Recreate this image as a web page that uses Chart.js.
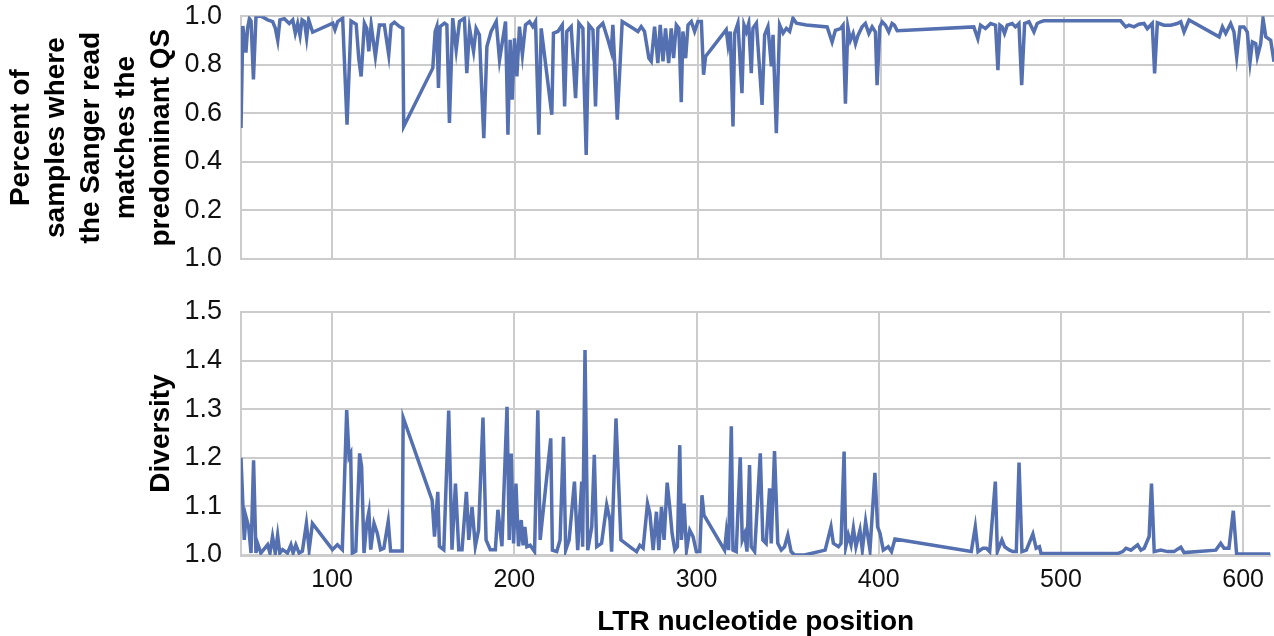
<!DOCTYPE html>
<html>
<head>
<meta charset="utf-8">
<script src="https://cdn.jsdelivr.net/npm/chart.js@4.4.1/dist/chart.umd.min.js"></script>
<style>
  html, body { margin:0; padding:0; background:#fff; }
  #wrap { position:relative; width:1274px; height:636px; overflow:hidden; }
  canvas { position:absolute; left:0; }
  #topChart { top:0; }
  #divChart { top:290px; }
</style>
</head>
<body>
<div id="wrap">
  <canvas id="topChart" width="1274" height="280"></canvas>
  <canvas id="divChart" width="1274" height="346"></canvas>
</div>
<script>
// LTR positions
const xTicks = [100, 200, 300, 400, 500, 600];

const topTickVals = [0, 0.2, 0.4, 0.6, 0.8, 1.0];
const topTickLabels = ["1.0", "0.2", "0.4", "0.6", "0.8", "1.0"];
const divTickVals = [1.0, 1.1, 1.2, 1.3, 1.4, 1.5];

const matchPos = [50,51,52.7,53.6,54.6,55.5,56.8,58.2,61,64.6,67.3,68.8,70.1,71.3,73.7,76.4,78.3,79.7,81,82.3,83.4,84.7,85.9,87,89.2,
  100.2,101.4,102.9,105.6,108,110.2,113,114.4,115.7,117.5,118.8,119.9,121.2,122.4,123.5,125.7,128.4,130.8,132.1,133.9,136.7,138.5,139,
  154.9,156.2,157.1,158,158.9,161.3,162.6,164,165.8,167.7,169.5,172.2,173.5,175,177.2,178.6,180.4,182.8,184.5,186.8,189.6,191.4,194.7,
  196,197.2,198.3,199.6,200.9,202.3,203.9,205.6,207.8,209.6,211.1,212.9,214.2,220,220.9,223.3,225.7,227,228.2,230.6,233,234.8,237,
  237.5,238.8,240.3,242.5,243.9,245.2,247.9,250.7,252.5,253.4,255.8,258.5,264.4,267.1,268.9,270.7,273.1,274.4,276.2,278,279.3,280.8,
  282.2,283.9,285.3,286.6,288.1,289.5,290.8,291.7,293.2,294.5,296.3,298.1,299.9,301.8,303,304.1,315.4,316.4,317.6,319.1,320,321.8,324,
  325.1,326.4,327.7,329.1,330,331.9,335,336.4,338.2,340.1,341,342.8,344.6,346.5,348.3,350.1,351.9,353.8,359.2,370.6,373.3,375.1,377.9,
  379.3,380.6,381.9,383.3,384.8,386.1,387.5,389.7,391.5,393.4,395.2,397,397.9,399.4,400.7,402.5,404.3,406.1,407.4,408.9,450.8,453,
  454.5,457.2,460,462.7,464,465.1,466.3,467.6,469.1,471.8,473.6,475.5,477,478.6,481,483.7,485.5,487.3,489.1,531.1,533.9,535.7,538.4,
  541.1,543.9,545.7,548.4,549.7,551.2,554.8,558.5,562.1,564,565.8,568.5,585,586.8,588.6,591.3,593.1,594.6,596.4,598.6,600.4,601.9,
  603.2,605,605.9,607.7,609,610.5,613.2,615];
const matchVals = [0.54,0.96,0.85,0.95,0.99,0.98,0.74,1.0,1.0,0.985,0.978,0.95,0.90,0.985,0.99,0.97,0.985,0.93,0.97,0.92,0.985,0.978,0.91,0.985,0.934,
  0.971,0.944,0.978,0.992,0.553,0.98,0.967,0.827,0.752,0.971,0.95,0.855,0.964,0.896,0.834,0.964,0.964,0.841,0.964,0.975,0.957,0.95,0.546,
  0.786,0.937,0.957,0.704,0.957,0.971,0.964,0.56,0.992,0.861,0.978,0.992,0.765,0.95,0.855,0.95,0.923,0.498,0.875,0.937,0.978,0.82,0.978,
  0.512,0.903,0.656,0.909,0.752,0.957,0.841,0.964,0.978,0.957,0.978,0.512,0.95,0.594,0.93,0.937,0.964,0.628,0.937,0.957,0.662,0.971,0.95,
  0.772,0.429,0.964,0.944,0.628,0.95,0.971,0.903,0.855,0.964,0.574,0.978,0.95,0.937,0.957,0.937,0.827,0.814,0.957,0.807,0.964,0.814,
  0.95,0.807,0.95,0.827,0.964,0.95,0.646,0.937,0.827,0.964,0.978,0.937,0.978,0.978,0.759,0.834,0.944,0.882,0.937,0.546,0.93,0.971,0.683,
  0.964,0.937,0.971,0.765,0.95,0.971,0.635,0.923,0.957,0.793,0.923,0.518,0.964,0.93,0.95,0.937,0.992,0.971,0.964,0.956,0.894,0.942,0.949,
  0.963,0.64,0.956,0.901,0.929,0.887,0.922,0.956,0.97,0.929,0.956,0.935,0.716,0.956,0.977,0.963,0.935,0.97,0.963,0.94,0.956,0.908,
  0.963,0.949,0.97,0.963,0.778,0.963,0.956,0.929,0.963,0.97,0.956,0.97,0.716,0.97,0.977,0.935,0.97,0.977,0.981,0.981,0.956,0.963,0.956,
  0.967,0.97,0.949,0.97,0.764,0.973,0.963,0.963,0.97,0.977,0.935,0.984,0.915,0.956,0.929,0.97,0.935,0.833,0.956,0.956,0.935,0.812,
  0.894,0.887,0.833,0.887,0.99,0.915,0.901,0.812];

const divPos = [50,51.8,52.7,54.2,55.5,56.9,58.2,59.1,60.9,64.6,65.9,67.3,68.8,70.1,71.3,72.8,75.5,77.4,78.6,80.1,81.9,83.7,85.9,87.4,89.2,
  100.2,102.9,105.6,108,109.3,110.2,111.1,113,115.1,116.2,117.5,119,120.2,121.2,123,124.8,126.6,128.4,130.8,132.1,138.5,139,
  154.9,156.2,158,158.9,161.3,164,165.8,167.7,169.5,171.3,173.7,175,176.8,178.6,180.4,182.8,184.5,186.8,189.6,191,193.2,
  196,197.2,198.3,199.6,200.9,202.3,203.8,204.8,205.8,206.9,208.7,211.1,212.9,214.2,220,220.9,223.3,225.1,227,228.2,230.1,233,234.8,
  237,237.5,238.8,240.3,242.5,243.9,245.2,247.9,250.7,252.5,253.4,255.8,258.5,264.4,267.1,268.9,270.7,273.1,274.4,276.2,278,279.3,
  280.8,282.2,283.9,285.3,286.6,288.1,289.5,290.8,291.7,293.2,294.5,296.3,298.1,299.9,301.8,303,304.1,315.4,316.4,317.6,319.1,320,
  321.8,324,325.1,326.4,327.7,329.1,330,331.9,335,336.4,338.2,340.1,341,342.8,344.6,346.5,348.3,350.1,351.9,353.8,359.2,370.6,373.8,
  375.1,377.9,379.3,381,381.9,383.3,384.8,386.1,387.5,389.7,391,392.8,395.2,397.9,399.4,400.7,402.5,405.2,407,408.9,450.8,453,454.5,
  457.2,459.1,460.9,464,465.1,467.6,469.1,471.8,473.6,475.5,477,478.6,481,484.6,486.4,488.2,489.1,531.1,533.9,535.7,538.4,542.1,543.9,
  545.7,548.4,549.7,551.2,554.8,558.5,562.1,564,565.8,567.6,585,587.7,589.5,592.2,594.6,596.4,615];
const divVals = [1.2,1.031,1.079,1.058,1.004,1.195,1.004,1.024,1.004,1.021,1.004,1.038,1.004,1.041,1.004,1.011,1.004,1.021,1.004,1.021,1.004,1.008,1.065,1.011,1.065,
  1.011,1.021,1.011,1.298,1.202,1.209,1.004,1.008,1.209,1.182,1.004,1.065,1.089,1.011,1.065,1.045,1.011,1.014,1.069,1.008,1.008,1.283,
  1.113,1.038,1.13,1.018,1.011,1.297,1.011,1.147,1.011,1.011,1.13,1.031,1.099,1.018,1.052,1.283,1.031,1.011,1.011,1.093,1.018,
  1.305,1.031,1.209,1.024,1.147,1.018,1.072,1.02,1.058,1.017,1.02,1.007,1.298,1.031,1.24,1.01,1.007,1.031,1.243,1.01,1.031,1.151,1.01,
  1.151,1.017,1.422,1.01,1.058,1.206,1.017,1.024,1.103,1.072,1.007,1.281,1.031,1.014,1.007,1.02,1.014,1.106,1.086,1.01,1.089,1.01,
  1.099,1.031,1.149,1.099,1.044,1.01,1.017,1.226,1.031,1.106,1.01,1.051,1.038,1.007,1.007,1.123,1.082,1.01,1.048,1.01,1.265,1.01,
  1.007,1.201,1.031,1.044,1.007,1.185,1.017,1.007,1.209,1.031,1.024,1.137,1.024,1.214,1.024,1.01,1.017,1.041,1.007,1.0,1.0,1.01,1.058,
  1.024,1.017,1.024,1.213,1.017,1.041,1.021,1.055,1.017,1.051,1.01,1.069,1.01,1.169,1.058,1.045,1.01,1.017,1.007,1.033,1.007,1.058,1.007,
  1.014,1.014,1.007,1.151,1.007,1.031,1.017,1.01,1.007,1.007,1.19,1.007,1.01,1.043,1.014,1.017,1.003,1.003,1.007,1.014,1.01,1.021,1.01,
  1.014,1.038,1.147,1.007,1.01,1.007,1.007,1.012,1.016,1.005,1.01,1.024,1.014,1.014,1.091,1.002,1.002];

const LINE = "#5470b0";
const GRID = "#cccccc";
const FONT = "'Liberation Sans', Arial, sans-serif";
const Y_AXIS_W = 241;

const pts = (xs, ys) => xs.map((x, i) => ({x, y: ys[i]}));
const fixTicks = vals => scale => { scale.ticks = vals.map(v => ({value: v})); };

function lineSet(data) {
  return { data, borderColor: LINE, borderWidth: 3.5, pointRadius: 0, tension: 0, fill: false };
}

// y grid: invisible tick marks keep labels 19px off the plot
// (ticks.padding would also push the plot area down)
const yGrid = { color: GRID, lineWidth: 2, drawTicks: true, tickLength: 19, tickColor: "rgba(0,0,0,0)" };

// top panel: share of samples matching
new Chart(document.getElementById("topChart"), {
  type: "line",
  data: { datasets: [lineSet(pts(matchPos, matchVals))] },
  options: {
    responsive: false, animation: false, devicePixelRatio: 1,
    layout: { padding: { top: 16, bottom: 21, left: 0, right: 0 } },
    plugins: { legend: { display: false }, tooltip: { enabled: false } },
    scales: {
      x: {
        type: "linear", min: 50, max: 615,
        afterBuildTicks: fixTicks(xTicks),
        afterFit: s => { s.height = 0; },
        ticks: { display: false },
        grid: { color: GRID, lineWidth: 2, drawTicks: false },
        border: { display: false }
      },
      y: {
        min: 0, max: 1,
        afterBuildTicks: fixTicks(topTickVals),
        afterFit: s => { s.width = Y_AXIS_W; },
        ticks: { callback: (v, i) => topTickLabels[i], color: "#111", padding: 0, font: { family: FONT, size: 27 } },
        grid: yGrid,
        border: { color: GRID, width: 2 },
        title: {
          display: true,
          text: ["Percent of", "samples where", "the Sanger read", "matches the", "predominant QS"],
          color: "#000",
          padding: { top: 4, bottom: 0 },
          font: { family: FONT, size: 28, weight: "bold", lineHeight: 1.25 }
        }
      }
    }
  }
});

// bottom panel: diversity
new Chart(document.getElementById("divChart"), {
  type: "line",
  data: { datasets: [lineSet(pts(divPos, divVals))] },
  options: {
    responsive: false, animation: false, devicePixelRatio: 1,
    layout: { padding: { top: 22, bottom: 0, left: 0, right: 0 } },
    plugins: { legend: { display: false }, tooltip: { enabled: false } },
    scales: {
      x: {
        type: "linear", min: 50, max: 615,
        afterBuildTicks: fixTicks(xTicks),
        afterFit: s => { s.height = 81; },
        ticks: { color: "#111", padding: 10, font: { family: FONT, size: 25 } },
        grid: { color: GRID, lineWidth: 2, drawTicks: false },
        border: { color: GRID, width: 3 },
        title: {
          display: true, text: "LTR nucleotide position", color: "#000",
          padding: { top: 0, bottom: 0 },
          font: { family: FONT, size: 28, weight: "bold", lineHeight: 1 }
        }
      },
      y: {
        min: 1.0, max: 1.5,
        afterBuildTicks: fixTicks(divTickVals),
        afterFit: s => { s.width = Y_AXIS_W; },
        ticks: { callback: v => v.toFixed(1), color: "#111", padding: 0, font: { family: FONT, size: 27 } },
        grid: yGrid,
        border: { color: GRID, width: 2 },
        title: {
          display: true, text: "Diversity", color: "#000",
          padding: { top: 144, bottom: 0 },
          font: { family: FONT, size: 28, weight: "bold", lineHeight: 1.25 }
        }
      }
    }
  }
});
</script>
</body>
</html>
